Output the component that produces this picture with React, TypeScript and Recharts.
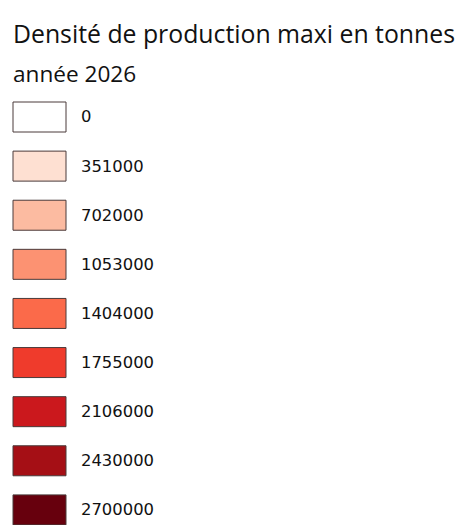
import { BarChart, Bar, Cell, XAxis, YAxis } from 'recharts';

const TITLE = 'Densité de production maxi en tonnes';
const SUBTITLE = 'année 2026';

// class breaks shown in the legend
const classes = ['0', '351000', '702000', '1053000', '1404000', '1755000', '2106000', '2430000', '2700000'];
// one swatch per class
const swatch = [1, 1, 1, 1, 1, 1, 1, 1, 1];
const fills = [
  '#ffffff', '#fee0d2', '#fcbba1', '#fc9272', '#fb6a4a',
  '#ef3b2c', '#cb181d', '#a50f15', '#67000d',
];

const data = classes.map((label, i) => ({ label, swatch: swatch[i] }));

const LabelTick = (props: any) => {
  const { x, y, payload } = props;
  return (
    <text
      x={x}
      y={y}
      dy="0.36em"
      textAnchor="start"
      fontFamily="'DejaVu Sans', Verdana, sans-serif"
      fontSize={16.4}
      fill="#111"
    >
      {payload.value}
    </text>
  );
};

const App = () => {
  return (
    <div style={{ position: 'absolute', left: 0, top: 0, width: 462, height: 525, background: '#fff', overflow: 'hidden' }}>
      <div
        style={{
          position: 'absolute',
          left: 13,
          top: 17,
          fontFamily: "'Open Sans', sans-serif",
          fontSize: 24.8,
          lineHeight: '32px',
          color: '#111',
          whiteSpace: 'nowrap',
        }}
      >
        {TITLE}
      </div>
      <div
        style={{
          position: 'absolute',
          left: 13,
          top: 59,
          fontFamily: "'Open Sans', sans-serif",
          fontSize: 22.6,
          lineHeight: '30px',
          color: '#111',
          whiteSpace: 'nowrap',
        }}
      >
        {SUBTITLE}
      </div>
      <div style={{ position: 'absolute', left: 0, top: 0 }}>
        <BarChart
          width={462}
          height={534}
          data={data}
          layout="vertical"
          margin={{ top: 92, right: 0, bottom: 0, left: 13 }}
          barSize={30}
        >
          <XAxis type="number" domain={[0, 1]} hide />
          <YAxis
            type="category"
            dataKey="label"
            orientation="right"
            width={396}
            axisLine={false}
            tickLine={false}
            tickSize={0}
            tickMargin={15}
            interval={0}
            tick={<LabelTick />}
          />
          <Bar dataKey="swatch" stroke="#4a3a3a" strokeWidth={1} isAnimationActive={false}>
            {data.map((_, i) => (
              <Cell key={i} fill={fills[i]} />
            ))}
          </Bar>
        </BarChart>
      </div>
    </div>
  );
};

export default App;
